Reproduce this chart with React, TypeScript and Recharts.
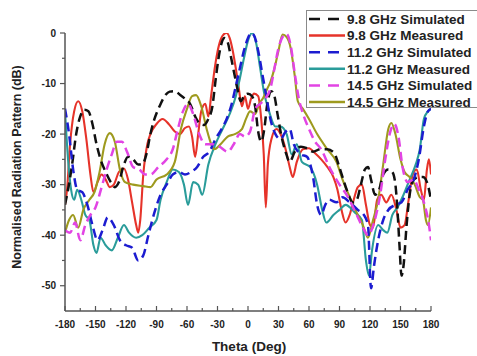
import React from "react";
import { LineChart, Line, XAxis, YAxis } from "recharts";

// theta (deg) / normalised pattern (dB)
const thetaTicks = [-180, -165, -150, -135, -120, -105, -90, -75, -60, -45, -30, -15, 0, 15, 30, 45, 60, 75, 90, 105, 120, 135, 150, 165, 180];
const dbTicks = [-55, -50, -45, -40, -35, -30, -25, -20, -15, -10, -5, 0];

const sim98: [number, number][] = [
  [-180, -34], [-177, -31], [-173, -26], [-169, -20], [-165, -16.5], [-161, -15.2], [-157, -15.5], [-153, -18],
  [-149, -22], [-145, -25], [-140, -27.5], [-135, -29.5], [-131, -30.5], [-127, -29.5], [-122, -26], [-118, -24.5],
  [-113, -25], [-108, -26], [-104, -26], [-100, -24], [-96, -20], [-92, -17], [-87, -14.5], [-82, -12.5],
  [-77, -11.6], [-72, -11.5], [-67, -12.2], [-62, -13], [-57, -14], [-52, -16.5], [-48, -17.8], [-43, -18.2],
  [-39, -17], [-35, -14.5], [-32, -9.5], [-29, -5], [-26, -2], [-23, -1], [-20, -1.8], [-17, -4.5],
  [-14, -7.5], [-11, -10.5], [-7, -13.5], [-4, -12.5], [0, -12], [4, -12.5], [7, -14.5], [10, -19.5],
  [13, -21.5], [16, -19], [19, -14], [23, -11.5], [26, -12.5], [29, -16], [33, -20.5], [37, -23.5],
  [41, -25.5], [46, -23.5], [52, -22.5], [58, -22.8], [64, -23.5], [71, -23], [78, -23], [85, -23.8],
  [89, -26], [93, -28.5], [98, -31.5], [103, -33.5], [107, -33], [111, -30], [115, -27], [118, -26.5],
  [121, -29], [125, -32], [129, -31], [133, -28], [138, -27], [142, -27.5], [145, -30], [147, -35],
  [149, -42], [151, -48], [153, -46], [156, -38], [159, -32], [163, -29], [168, -28.5], [172, -28.5],
  [176, -29.5], [180, -33],
];

const meas98: [number, number][] = [
  [-180, -34], [-178, -31], [-175, -22], [-171, -15.5], [-167, -13.5], [-163, -15.5], [-159, -21], [-155, -28],
  [-152, -31.5], [-148, -29.5], [-144, -28], [-140, -29], [-136, -30.5], [-132, -30], [-127, -27.5], [-122, -26.8],
  [-118, -29], [-114, -33.5], [-110, -38], [-108, -39.5], [-106, -37], [-103, -28], [-99, -22], [-96, -20],
  [-90, -18], [-84, -17], [-78, -18], [-72, -19.5], [-67, -20], [-62, -18.8], [-58, -18.5], [-55, -20.5],
  [-52, -24.5], [-49, -20], [-46, -15.5], [-42, -14], [-39, -16.5], [-36, -12], [-32, -6], [-28, -2],
  [-24, -0.3], [-21, 0], [-18, -1], [-15, -3.5], [-12, -7], [-9, -11], [-6, -14.5], [-3, -12.5],
  [0, -15], [3, -13], [6, -12], [10, -12.5], [13, -17], [15.5, -24], [17.5, -34.5], [19.5, -26],
  [23, -21], [28, -19], [32, -20], [37, -23], [41, -26.5], [44, -28.5], [48, -25.5], [54, -23],
  [60, -22.8], [66, -23.8], [72, -25], [78, -26.5], [84, -28.5], [88, -31], [92, -35], [96, -37.5],
  [100, -36], [104, -33], [108, -30.5], [112, -30], [116, -34], [120, -38], [123, -38.5], [127, -33],
  [131, -32], [136, -33.5], [141, -32], [146, -35], [150, -38.5], [154, -38], [158, -33], [162, -28],
  [166, -27], [170, -31], [173, -33], [176, -27], [178, -25], [180, -28],
];

const sim112: [number, number][] = [
  [-180, -15], [-176, -20], [-172, -27], [-168, -31], [-163, -31.5], [-158, -34], [-153, -38], [-148, -41],
  [-143, -39], [-138, -36.5], [-132, -38], [-126, -41], [-120, -42], [-114, -42.5], [-108, -45], [-103, -44],
  [-98, -40], [-92, -35.5], [-86, -32], [-80, -30], [-74, -28], [-68, -27.5], [-62, -28], [-56, -27.5],
  [-50, -26.5], [-44, -24.5], [-38, -23.5], [-32, -21], [-26, -19], [-21, -17], [-16, -14], [-12, -10.5],
  [-8, -7], [-4, -3.5], [0, -1], [3, 0], [6, -0.5], [10, -3.5], [14, -8], [18, -12.5],
  [22, -17], [27, -20], [32, -21], [37, -19.5], [41, -19], [45, -22], [52, -24], [58, -24.5],
  [64, -28.5], [68, -34], [72, -36], [76, -34], [80, -33], [87, -33.5], [93, -32.5], [100, -33.5],
  [108, -35], [114, -36], [118, -38], [121, -50.5], [124, -46], [128, -41], [133, -37], [138, -35],
  [145, -34], [151, -33.5], [157, -31], [163, -29], [168, -25], [173, -18.5], [177, -15.5], [180, -15],
];

const meas112: [number, number][] = [
  [-180, -15.5], [-177, -25], [-174, -31], [-171, -33], [-168, -31], [-164, -33], [-160, -36], [-156, -37],
  [-152, -42], [-149, -43.5], [-145, -40.5], [-140, -42], [-134, -43], [-128, -40.5], [-122, -38], [-117, -39.5],
  [-110, -40.5], [-104, -40], [-97, -38.5], [-90, -37], [-86, -33], [-80, -29.5], [-74, -27], [-68, -27.5],
  [-63, -30], [-59, -34], [-54, -29.5], [-49, -30], [-45, -32], [-39, -26], [-32, -22], [-25, -19],
  [-18, -16], [-12, -12.5], [-8, -9], [-4, -5], [0, -1.5], [4, 0], [8, -2], [12, -7],
  [16, -12], [20, -15], [27, -18.5], [32, -18.5], [38, -20], [43, -24], [48, -22], [53, -25.5],
  [61, -26.5], [68, -30], [73, -35], [77, -37.5], [84, -36], [90, -35], [96, -34], [105, -35.5],
  [112, -37], [116, -45], [119, -48], [122, -43], [128, -38], [133, -39], [137, -39.5], [142, -36],
  [147, -34.5], [153, -32], [159, -29], [165, -26], [169, -23], [173, -17], [177, -15.5], [180, -15],
];

const sim145: [number, number][] = [
  [-180, -39], [-175, -39.5], [-170, -37.5], [-165, -41], [-160, -38], [-155, -36], [-150, -34.5], [-144, -30.5],
  [-139, -27], [-134, -24], [-129, -21.5], [-124, -21.5], [-119, -23.5], [-113, -26.5], [-107, -27], [-101, -28],
  [-96, -28], [-88, -26.5], [-80, -25], [-74, -23], [-69, -19], [-64, -15.5], [-59, -14], [-54, -16],
  [-48, -20], [-42, -22], [-35, -22], [-28, -22.5], [-20, -23.5], [-14, -22], [-8, -20], [-3, -20.5],
  [2, -19.5], [7, -15], [12, -14], [17, -13], [22, -11], [26, -7], [30, -3], [34, -0.8],
  [38, -0.2], [42, -2.5], [46, -8], [50, -13], [55, -16.5], [60, -19], [66, -21.5], [72, -23],
  [80, -26.5], [90, -30], [97, -32], [107, -36], [113, -38.5], [118, -40], [124, -37.5], [130, -32],
  [135, -25], [140, -19.5], [144, -18], [148, -20.5], [152, -26.5], [157, -29.5], [163, -29], [168, -31],
  [173, -33.5], [178, -38], [180, -41],
];

const meas145: [number, number][] = [
  [-180, -39.5], [-176, -37], [-172, -36], [-167, -38.5], [-162, -35], [-156, -33], [-151, -31.5], [-146, -27.5],
  [-141, -22], [-136, -19.8], [-131, -21.5], [-126, -27], [-121, -29.5], [-113, -30], [-103, -30.3], [-96, -30.5],
  [-90, -29], [-80, -28], [-72, -25.5], [-66, -19], [-60, -15], [-55, -12.5], [-51, -12.3], [-46, -14.5],
  [-40, -19.5], [-33, -23], [-27, -22], [-20, -20.5], [-13, -20], [-6, -19], [-2, -17], [2, -15.5],
  [7, -16], [11, -14], [15, -12.8], [19, -11], [22, -9.7], [26, -7], [30, -3.5], [34, -0.3],
  [38, -0.8], [42, -3], [46, -8.5], [49, -13.5], [54, -15], [60, -17], [68, -20], [78, -23],
  [87, -25.5], [93, -29], [98, -31.5], [108, -36], [113, -38], [118, -40.5], [123, -37], [128, -33],
  [133, -26], [138, -19], [141, -17.8], [145, -20], [150, -25], [154, -27.5], [159, -28.5], [164, -30],
  [169, -32.5], [172, -33], [175, -37], [177, -38], [180, -34.5],
];

const series = [
  { name: "9.8 GHz Simulated", data: sim98, color: "#111111", dashed: true },
  { name: "9.8 GHz Measured", data: meas98, color: "#e6332a", dashed: false },
  { name: "11.2 GHz Simulated", data: sim112, color: "#1c1cd0", dashed: true },
  { name: "11.2 GHz Measured", data: meas112, color: "#2a9c9a", dashed: false },
  { name: "14.5 GHz Simulated", data: sim145, color: "#e244e4", dashed: true },
  { name: "14.5 GHz Measured", data: meas145, color: "#9e9a1e", dashed: false },
];

const font = "'Liberation Sans', Arial, sans-serif";
const axisColor = "#555555";

function XTick(props: any) {
  const { x, y, payload } = props;
  const major = payload.value % 30 === 0;
  return (
    <g>
      <line x1={x} x2={x} y1={y} y2={y - (major ? 5 : 3)} stroke={axisColor} strokeWidth={1.2} />
      {major && (
        <text x={x} y={y + 17} textAnchor="middle" fontFamily={font} fontWeight="bold" fontSize={10} fill="#222">
          {payload.value}
        </text>
      )}
    </g>
  );
}

function YTick(props: any) {
  const { x, y, payload } = props;
  if (payload.value === -55) return <g />;
  const major = payload.value % 10 === 0;
  return (
    <g>
      <line x1={x} x2={x - (major ? 5 : 3)} y1={y} y2={y} stroke={axisColor} strokeWidth={1.2} />
      {major && (
        <text x={x - 9} y={y + 3.6} textAnchor="end" fontFamily={font} fontWeight="bold" fontSize={10} fill="#222">
          {payload.value}
        </text>
      )}
    </g>
  );
}

export default function App() {
  const lines = series.map((s) => ({ ...s, points: s.data.map(([x, y]) => ({ x, y })) }));
  // solid (measured) first, dashed (simulated) on top
  const order = [...lines.filter((l) => !l.dashed), ...lines.filter((l) => l.dashed)];

  return (
    <div style={{ position: "absolute", left: 0, top: 0, width: 477, height: 356, background: "#fff" }}>
      <LineChart width={477} height={356} margin={{ top: 33, right: 46, bottom: 0, left: 0 }}>
        <XAxis
          dataKey="x"
          type="number"
          domain={[-180, 180]}
          ticks={thetaTicks}
          interval={0}
          height={45}
          tickSize={0}
          tickMargin={0}
          tickLine={false}
          tick={<XTick />}
          axisLine={{ stroke: axisColor, strokeWidth: 1.5 }}
          allowDataOverflow
        />
        <YAxis
          type="number"
          domain={[-55, 0]}
          ticks={dbTicks}
          interval={0}
          width={65}
          tickSize={0}
          tickMargin={0}
          tickLine={false}
          tick={<YTick />}
          axisLine={{ stroke: axisColor, strokeWidth: 1.5 }}
          allowDataOverflow
        />
        {order.map((l) => (
          <Line
            key={l.name}
            data={l.points}
            dataKey="y"
            name={l.name}
            type="monotone"
            stroke={l.color}
            strokeWidth={l.dashed ? 2.5 : 2.1}
            strokeDasharray={l.dashed ? "9 5" : undefined}
            dot={false}
            activeDot={false}
            isAnimationActive={false}
          />
        ))}
      </LineChart>
      <svg width={477} height={356} style={{ position: "absolute", left: 0, top: 0, pointerEvents: "none" }}>
        <text
          transform="translate(21,167) rotate(-90)"
          textAnchor="middle"
          fontFamily={font}
          fontWeight="bold"
          fontSize={12.5}
          fill="#222"
        >
          Normalised Radiation Pattern (dB)
        </text>
        <text x={249} y={351} textAnchor="middle" fontFamily={font} fontWeight="bold" fontSize={13.5} fill="#222">
          Theta (Deg)
        </text>
        <rect x={306.5} y={10.5} width={175} height={97} fill="#fff" stroke="#8a8a8a" strokeWidth={1} />
        {series.map((s, i) => {
          const cy = 19 + i * 16.6;
          return (
            <g key={s.name}>
              <line
                x1={309}
                x2={345}
                y1={cy}
                y2={cy}
                stroke={s.color}
                strokeWidth={2.5}
                strokeDasharray={s.dashed ? "11 8" : undefined}
              />
              <text x={347} y={cy + 4.8} fontFamily={font} fontWeight="bold" fontSize={13.5} fill="#222">
                {s.name}
              </text>
            </g>
          );
        })}
      </svg>
    </div>
  );
}
